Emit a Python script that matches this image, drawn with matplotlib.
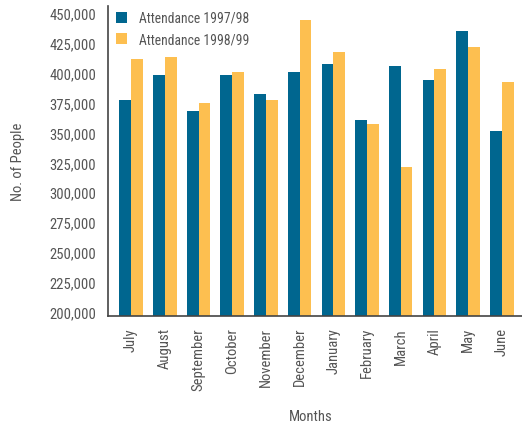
import matplotlib
matplotlib.use("Agg")
import matplotlib.pyplot as plt
from matplotlib.ticker import FuncFormatter
import numpy as np

months = ["July", "August", "September", "October", "November", "December",
          "January", "February", "March", "April", "May", "June"]
att_9798 = [377500, 398300, 367500, 398300, 382500, 400800,
            407500, 360000, 405800, 394200, 435000, 350800]
att_9899 = [411700, 413300, 374200, 400800, 376700, 444200,
            417500, 356700, 320800, 403300, 421700, 392500]
yticks = list(range(200000, 450001, 25000))

blue = "#00668F"
yellow = "#FDBF50"
grey = "#555555"

plt.rcParams["font.family"] = ["Roboto Condensed", "DejaVu Sans"]
plt.rcParams["font.size"] = 10

fig = plt.figure(figsize=(5.22, 4.27), dpi=100)
ax = fig.add_axes([0.206, 0.258, 0.794, 0.726])

x = np.arange(len(months))
w = 0.35
ax.bar(x - w / 2, att_9798, w, color=blue, label="Attendance 1997/98")
ax.bar(x + w / 2, att_9899, w, color=yellow, label="Attendance 1998/99")

ax.set_xlim(-0.70, 11.6)
ax.set_ylim(196700, 455800)
ax.set_yticks(yticks)
ax.yaxis.set_major_formatter(FuncFormatter(lambda v, p: f"{int(v):,}"))
ax.set_xticks(x)
ax.set_xticklabels(months, rotation=90, va="top")
ax.tick_params(axis="both", length=0, colors=grey, labelsize=10.5)
ax.tick_params(axis="y", pad=8)
ax.tick_params(axis="x", pad=8)

for s in ["top", "right"]:
    ax.spines[s].set_visible(False)
for s in ["left", "bottom"]:
    ax.spines[s].set_color("#444444")
    ax.spines[s].set_linewidth(1.2)

ax.set_ylabel("No. of People", color=grey, fontsize=10.5)
ax.yaxis.set_label_coords(-0.20, 0.5)
ax.set_xlabel("Months", color=grey, fontsize=10.5)
ax.xaxis.set_label_coords(0.49, -0.30)

leg = ax.legend(loc="upper left", bbox_to_anchor=(0.0, 1.01), frameon=False,
                fontsize=9.8, handlelength=0.85, handleheight=0.85,
                handletextpad=0.85, labelspacing=0.55, borderaxespad=0.2)
for t in leg.get_texts():
    t.set_color(grey)

fig.savefig("out.png", dpi=100)
